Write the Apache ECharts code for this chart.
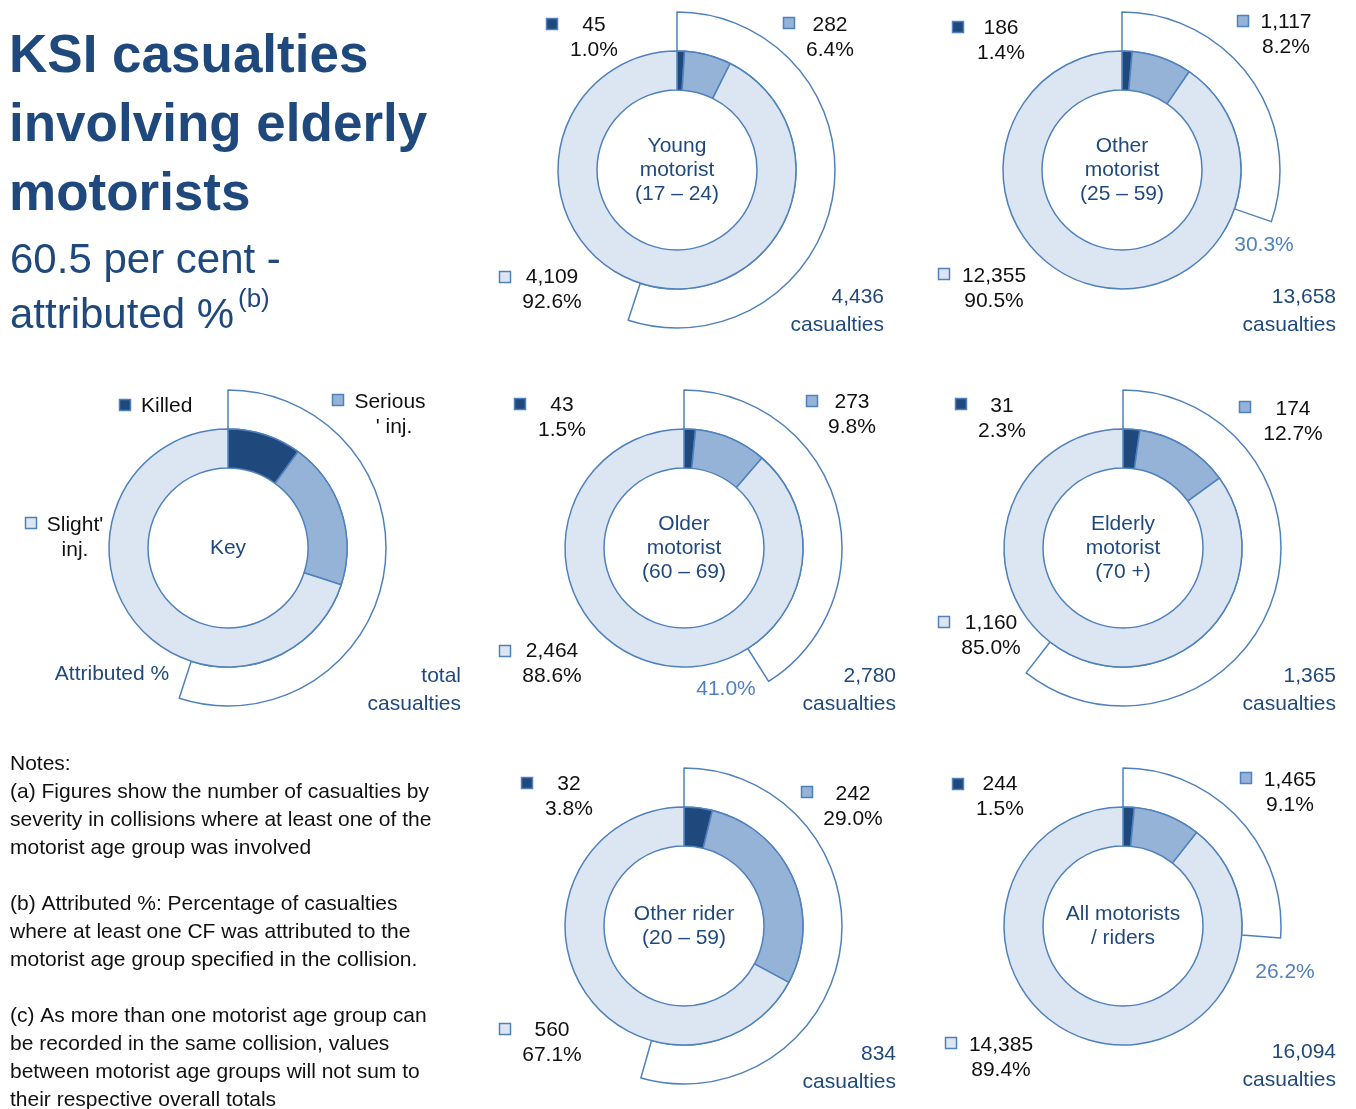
<!DOCTYPE html>
<html>
<head>
<meta charset="utf-8">
<script src="https://cdn.jsdelivr.net/npm/echarts@6/dist/echarts.min.js"></script>
<style>
  html, body { margin: 0; padding: 0; background: #fff; }
  #chart { width: 1356px; height: 1109px; }
</style>
</head>
<body>
<div id="chart"></div>
<script>
// Casualty counts by severity for each motorist age group
const groupLabels = [
  ['Young', 'motorist', '(17 – 24)'],
  ['Other', 'motorist', '(25 – 59)'],
  ['Older', 'motorist', '(60 – 69)'],
  ['Elderly', 'motorist', '(70 +)'],
  ['Other rider', '(20 – 59)'],
  ['All motorists', '/ riders']
];
const killed = [45, 186, 43, 31, 32, 244];
const serious = [282, 1117, 273, 174, 242, 1465];
const slight = [4109, 12355, 2464, 1160, 560, 14385];
const attributedPct = [55.0, 30.3, 41.0, 60.5, 54.4, 26.2];

// Illustrative shares for the key donut
const keyShares = [10, 20, 70];
const keyAttributed = 55;

const severityNames = ['Killed', 'Serious', 'Slight'];
const notesLines = [
  'Notes:',
  '(a) Figures show the number of casualties by',
  'severity in collisions where at least one of the',
  'motorist age group was involved',
  '',
  '(b) Attributed %: Percentage of casualties',
  'where at least one CF was attributed to the',
  'motorist age group specified in the collision.',
  '',
  '(c) As more than one motorist age group can',
  'be recorded in the same collision, values',
  'between motorist age groups will not sum to',
  'their respective overall totals'
];

// Layout: donut centres and label offsets (marker x,y, text x,y) relative to centre
const layout = [
  { c: [677, 170], k: [-125, -146, -83, -145], s: [112, -147, 153, -145], l: [-172, 107, -125, 107], a: [-5, 139], t: [207, 127] },
  { c: [1122, 170], k: [-164, -143, -121, -142], s: [121, -149, 164, -148], l: [-178, 104, -128, 106], a: [142, 75], t: [214, 127] },
  { c: [684, 548], k: [-164, -144, -122, -143], s: [128, -147, 168, -146], l: [-179, 103, -132, 103], a: [42, 141], t: [212, 128] },
  { c: [1123, 548], k: [-162, -144, -121, -142], s: [122, -141, 170, -139], l: [-179, 74, -132, 75], a: [5, 139], t: [213, 128] },
  { c: [684, 926], k: [-157, -143, -115, -142], s: [123, -134, 169, -132], l: [-179, 103, -132, 104], a: [6, 140], t: [212, 128] },
  { c: [1123, 926], k: [-165, -142, -123, -142], s: [123, -148, 167, -146], l: [-172, 117, -122, 119], a: [162, 46], t: [213, 126] }
];
const keyCenter = [228, 548];

const DARK = '#1F497D';
const MID = '#95B3D7';
const LIGHT = '#DCE6F2';
const EDGE = '#4F81BD';
const sevColors = [DARK, MID, LIGHT];
const FONT = '"Liberation Sans", Arial, sans-serif';
const R_IN = 80, R_MID = 119, R_OUT = 158;

const fmt = v => v.toLocaleString('en-GB');

function donutSeries(center, values, attributed) {
  return [
    {
      type: 'pie',
      silent: true,
      center: center,
      radius: [R_MID, R_OUT],
      startAngle: 90,
      clockwise: true,
      label: { show: false },
      labelLine: { show: false },
      animation: false,
      data: [
        { value: attributed, itemStyle: { color: '#ffffff', borderColor: EDGE, borderWidth: 1.5 } },
        { value: 100 - attributed, itemStyle: { color: 'rgba(0,0,0,0)', borderWidth: 0 } }
      ]
    },
    {
      type: 'pie',
      silent: true,
      center: center,
      radius: [R_IN, R_MID],
      startAngle: 90,
      clockwise: true,
      label: { show: false },
      labelLine: { show: false },
      animation: false,
      data: values.map((v, i) => ({
        name: severityNames[i],
        value: v,
        itemStyle: { color: sevColors[i], borderColor: EDGE, borderWidth: 1.5 }
      }))
    }
  ];
}

function text(x, y, str, opts) {
  return {
    type: 'text',
    silent: true,
    style: Object.assign({
      x: x, y: y, text: str,
      font: '21px ' + FONT,
      fill: '#111111',
      align: 'center',
      verticalAlign: 'middle'
    }, opts || {})
  };
}

function marker(x, y, color) {
  return {
    type: 'rect',
    silent: true,
    shape: { x: x - 5.5, y: y - 5.5, width: 11, height: 11 },
    style: { fill: color, stroke: EDGE, lineWidth: 1.5 }
  };
}

const series = [];
const graphics = [];

groupLabels.forEach((lines, i) => {
  const L = layout[i];
  const [cx, cy] = L.c;
  const vals = [killed[i], serious[i], slight[i]];
  const total = vals.reduce((a, b) => a + b, 0);
  series.push(...donutSeries(L.c, vals, attributedPct[i]));

  [L.k, L.s, L.l].forEach((p, j) => {
    graphics.push(marker(cx + p[0], cy + p[1], sevColors[j]));
    graphics.push(text(cx + p[2], cy + p[3], fmt(vals[j])));
    graphics.push(text(cx + p[2], cy + p[3] + 25, (vals[j] / total * 100).toFixed(1) + '%'));
  });

  // centre caption
  const lh = 24;
  const y0 = cy - (lines.length - 1) * lh / 2;
  lines.forEach((ln, j) => {
    graphics.push(text(cx, y0 + j * lh, ln, { fill: DARK }));
  });

  graphics.push(text(cx + L.a[0], cy + L.a[1], attributedPct[i].toFixed(1) + '%', { fill: EDGE }));
  graphics.push(text(cx + L.t[0], cy + L.t[1], fmt(total), { fill: DARK, align: 'right' }));
  graphics.push(text(cx + L.t[0], cy + L.t[1] + 28, 'casualties', { fill: DARK, align: 'right' }));
});

// Key donut
series.push(...donutSeries(keyCenter, keyShares, keyAttributed));
graphics.push(text(keyCenter[0], keyCenter[1], 'Key', { fill: DARK }));
graphics.push(marker(125, 405, DARK));
graphics.push(text(141, 406, 'Killed', { align: 'left' }));
graphics.push(marker(338, 400, MID));
graphics.push(text(390, 402, 'Serious'));
graphics.push(text(394, 427, "' inj."));
graphics.push(marker(31, 523, LIGHT));
graphics.push(text(75, 525, "Slight'"));
graphics.push(text(75, 550, 'inj.'));
graphics.push(text(112, 674, 'Attributed %', { fill: DARK }));
graphics.push(text(461, 676, 'total', { fill: DARK, align: 'right' }));
graphics.push(text(461, 704, 'casualties', { fill: DARK, align: 'right' }));

// Heading
['KSI casualties', 'involving elderly', 'motorists'].forEach((ln, j) => {
  graphics.push(text(9, 57 + j * 69, ln, { fill: DARK, align: 'left', font: 'bold 53px ' + FONT }));
});
graphics.push(text(10, 261, '60.5 per cent -', { fill: DARK, align: 'left', font: '42px ' + FONT }));
graphics.push(text(10, 316, 'attributed %', { fill: DARK, align: 'left', font: '42px ' + FONT }));
graphics.push(text(238, 300, '(b)', { fill: DARK, align: 'left', font: '26px ' + FONT }));

// Notes
notesLines.forEach((ln, j) => {
  if (ln) graphics.push(text(10, 764 + j * 28, ln, { align: 'left', font: '21px ' + FONT }));
});

const chart = echarts.init(document.getElementById('chart'), null, { renderer: 'canvas' });
chart.setOption({
  backgroundColor: '#ffffff',
  animation: false,
  series: series,
  graphic: graphics
});
</script>
</body>
</html>
